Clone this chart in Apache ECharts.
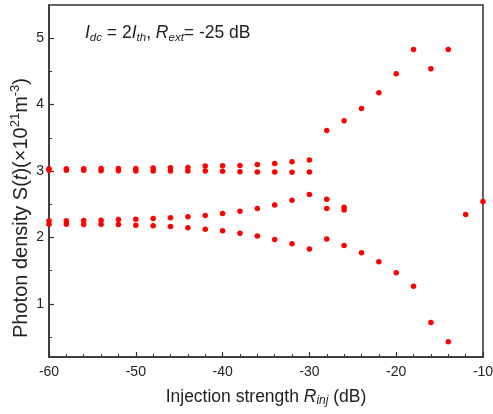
<!DOCTYPE html>
<html>
<head>
<meta charset="utf-8">
<script src="https://cdn.jsdelivr.net/npm/echarts@6.0.0/dist/echarts.min.js"></script>
<style>
    html,body{margin:0;padding:0;background:#fff;}
    #container{width:493px;height:414px;}
</style>
</head>
<body>
<div id="container"></div>
<script>
// injection strength (dB) for the two-branch region
var rinj = [-60,-58,-56,-54,-52,-50,-48,-46,-44,-42,-40,-38,-36,-34,-32,-30];
// upper group (around 3)
var upperTop = [3.035,3.035,3.035,3.04,3.04,3.04,3.045,3.05,3.055,3.075,3.08,3.085,3.10,3.115,3.14,3.165];
var upperBottom = [3.01,3.01,3.01,3.005,3.005,3.0,3.0,3.0,3.0,3.0,2.995,2.99,2.985,2.985,2.98,2.985];
// lower group (around 2.2)
var lowerTop = [2.25,2.25,2.255,2.26,2.27,2.275,2.285,2.295,2.31,2.33,2.36,2.395,2.435,2.49,2.56,2.645];
var lowerBottom = [2.2,2.2,2.195,2.2,2.195,2.185,2.175,2.165,2.145,2.125,2.10,2.065,2.02,1.97,1.905,1.825];
// remaining points beyond -30 dB
var rinjHigh = [-28,-28,-28,-28,-26,-26,-26,-26,-24,-24,-22,-22,-20,-20,-18,-18,-16,-16,-14,-14,-12,-10];
var densityHigh = [3.61,2.575,2.435,1.975,3.757,2.455,2.415,1.88,3.94,1.77,4.18,1.635,4.465,1.47,4.83,1.265,4.54,0.72,4.83,0.43,2.345,2.54];

var xTicks = [-60,-50,-40,-30,-20,-10];
var yTicks = [1,2,3,4,5];
var yMinorTicks = [0.5,1.5,2.5,3.5,4.5];

var points = [];
var groups = [upperTop, upperBottom, lowerTop, lowerBottom];
for(var g=0;g<groups.length;g++){
    for(var i=0;i<rinj.length;i++){
        points.push([rinj[i], groups[g][i]]);
    }
}
for(var j=0;j<rinjHigh.length;j++){
    points.push([rinjHigh[j], densityHigh[j]]);
}

var chart = echarts.init(document.getElementById('container'));
var axisCol = '#333';
var txtCol = '#222';
var fontFam = 'Liberation Sans, Arial, sans-serif';

var option = {
    animation:false,
    backgroundColor:'#fff',
    grid:{
        left:49, right:10, top:5, bottom:57,
        outerBoundsMode:'none',
        containLabel:false,
        show:true, borderColor:axisCol, borderWidth:1.5
    },
    xAxis:{
        type:'value',
        min:-60, max:-10, interval:10,
        axisLine:{show:true, lineStyle:{color:axisCol, width:1.5}},
        axisTick:{show:true, inside:true, length:5, lineStyle:{color:axisCol, width:1.2}},
        minorTick:{show:true, splitNumber:5, length:3, lineStyle:{color:axisCol, width:1}},
        splitLine:{show:false},
        axisLabel:{
            color:txtCol, fontSize:14, fontFamily:fontFam, margin:8,
            customValues:xTicks
        },
        name:'{t|Injection strength }{i|R}{s|inj}{t| (dB)}',
        nameLocation:'middle',
        nameGap:30,
        nameTextStyle:{
            rich:{
                t:{fontSize:17.5, color:txtCol, fontFamily:fontFam, lineHeight:20},
                i:{fontSize:17.5, color:txtCol, fontFamily:fontFam, fontStyle:'italic', lineHeight:20},
                s:{fontSize:12, color:txtCol, fontFamily:fontFam, fontStyle:'italic', lineHeight:20, verticalAlign:'bottom', padding:[6,0,0,0]}
            }
        }
    },
    yAxis:[{
        type:'value',
        min:0.2, max:5.5,
        axisLine:{show:true, lineStyle:{color:axisCol, width:1.5}},
        axisTick:{show:true, inside:true, length:5, customValues:yTicks, lineStyle:{color:axisCol, width:1.2}},
        splitLine:{show:false},
        axisLabel:{color:txtCol, fontSize:14, fontFamily:fontFam, margin:5, customValues:yTicks}
    },{
        type:'value',
        min:0.2, max:5.5,
        position:'left',
        axisLine:{show:false},
        axisTick:{show:true, inside:true, length:3, customValues:yMinorTicks, lineStyle:{color:axisCol, width:1}},
        splitLine:{show:false},
        axisLabel:{show:false, customValues:yMinorTicks}
    }],
    graphic:[{
        type:'text',
        x:21, y:208,
        rotation:Math.PI/2,
        style:{
            text:'{t|Photon density S(}{i|t}{t|)(×10}{p|21}{t|m}{p|-3}{t|)}',
            align:'center',
            verticalAlign:'middle',
            rich:{
                t:{fontSize:20, fill:txtCol, fontFamily:fontFam, lineHeight:24},
                i:{fontSize:20, fill:txtCol, fontFamily:fontFam, fontStyle:'italic', lineHeight:24},
                p:{fontSize:13, fill:txtCol, fontFamily:fontFam, lineHeight:24, verticalAlign:'top', padding:[0,0,9,0]}
            }
        }
    },{
        type:'text',
        x:85, y:33,
        style:{
            text:'{i|I}{s|dc}{t| = 2}{i|I}{s|th}{t|, }{i|R}{s|ext}{t|= -25 dB}',
            verticalAlign:'middle',
            rich:{
                t:{fontSize:17.5, fill:txtCol, fontFamily:fontFam, lineHeight:22},
                i:{fontSize:17.5, fill:txtCol, fontFamily:fontFam, fontStyle:'italic', lineHeight:22},
                s:{fontSize:11.5, fill:txtCol, fontFamily:fontFam, fontStyle:'italic', lineHeight:22, verticalAlign:'bottom', padding:[6,0,0,0]}
            }
        }
    }],
    series:[{
        type:'scatter',
        xAxisIndex:0,
        yAxisIndex:0,
        symbol:'circle',
        symbolSize:5.5,
        itemStyle:{color:'#ff0000', opacity:1},
        data:points
    }]
};
chart.setOption(option);
</script>
</body>
</html>
